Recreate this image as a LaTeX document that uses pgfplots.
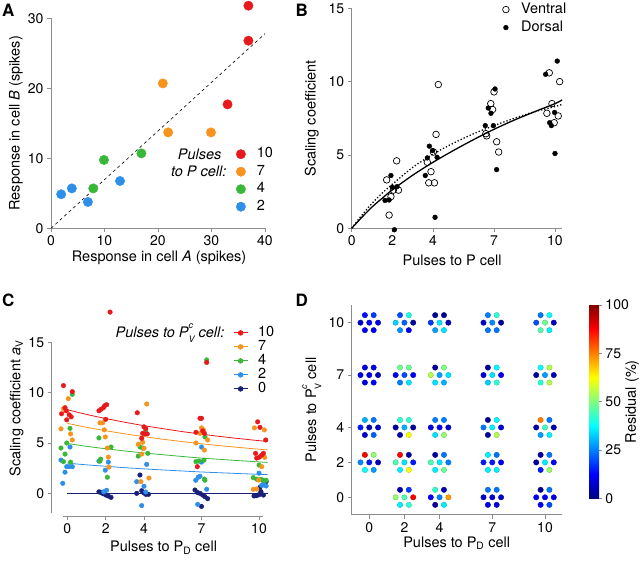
\documentclass[border=0pt]{standalone}
\usepackage{fontspec}
\setmainfont{TeX Gyre Heros}
\usepackage{pgfplots}
\pgfplotsset{compat=1.18}
\definecolor{cR}{HTML}{E8191C}
\definecolor{cO}{HTML}{F7941E}
\definecolor{cG}{HTML}{39B739}
\definecolor{cB}{HTML}{2E8FEA}
\definecolor{cN}{HTML}{1A1F7A}
\definecolor{axgray}{HTML}{8C8C8C}
\newcommand{\Pcv}{P\rlap{\raisebox{0.62em}{\fontsize{9}{9}\selectfont\itshape c}}\raisebox{-0.36em}{\fontsize{9}{9}\selectfont V}}
\newcommand{\lfont}{\fontsize{14.5}{17}\selectfont}
\newcommand{\tfont}{\fontsize{14}{16}\selectfont}
\pgfplotsset{
  myax/.style={scale only axis, clip=false, anchor=south west,
    axis x line*=bottom, axis y line*=left,
    axis line style={axgray, line width=0.9pt},
    tick style={axgray, line width=0.9pt},
    tick align=outside, major tick length=4pt,
    /pgf/number format/assume math mode=true,
    tick label style={font=\tfont},
    label style={font=\lfont},
    legend style={font=\lfont},
    xlabel style={anchor=center}, ylabel style={anchor=center},
  },
}
\begin{document}
\begin{tikzpicture}[x=1pt,y=1pt,font=\lfont]
\path[use as bounding box] (0,0) rectangle (640,561);
% panel letters
\node[font=\bfseries\fontsize{17}{19}\selectfont] at (8.3,551) {A};
\node[font=\bfseries\fontsize{17}{19}\selectfont] at (301.7,551) {B};
\node[font=\bfseries\fontsize{17}{19}\selectfont] at (8.3,261) {C};
\node[font=\bfseries\fontsize{17}{19}\selectfont] at (301.7,261) {D};

% ---------------- A ----------------
\begin{axis}[myax, at={(51pt,332.7pt)}, width=214pt, height=210pt,
  xmin=0, xmax=40, ymin=0, ymax=30,
  xtick={0,10,20,30,40}, ytick={0,10,20,30},
  xlabel={Response in cell \textit{A} (spikes)},
  ylabel={Response in cell \textit{B} (spikes)},
  xlabel style={at={(axis description cs:0.505,-0.141)}},
  ylabel style={at={(axis description cs:-0.164,0.50)}},
  legend style={draw=none, fill=none, at={(0.8645,0.3955)}, anchor=north west,
    inner sep=0pt, row sep=0pt, nodes={inner sep=0pt, text height=12.5pt, text depth=5pt},
    /tikz/every odd column/.append style={column sep=11.3pt}},
  legend cell align=left,
  legend image code/.code={\draw[#1] plot coordinates {(0pt,0pt)};},
]
\addlegendimage{only marks, mark=*, mark size=4.7pt, cR}\addlegendentry{10}
\addlegendimage{only marks, mark=*, mark size=4.7pt, cO}\addlegendentry{7}
\addlegendimage{only marks, mark=*, mark size=4.7pt, cG}\addlegendentry{4}
\addlegendimage{only marks, mark=*, mark size=4.7pt, cB}\addlegendentry{2}
\addplot[black, dashed, line width=0.6pt, forget plot] coordinates {(0,0) (40,27.8)};
\addplot[only marks, mark=*, mark size=4.7pt, cB, forget plot] coordinates {(1.9,4.86) (3.9,5.7) (6.9,3.76) (12.9,6.76)};
\addplot[only marks, mark=*, mark size=4.7pt, cG, forget plot] coordinates {(9.9,9.76) (16.9,10.7) (7.9,5.7)};
\addplot[only marks, mark=*, mark size=4.7pt, cO, forget plot] coordinates {(20.9,20.7) (21.9,13.7) (29.9,13.7)};
\addplot[only marks, mark=*, mark size=4.7pt, cR, forget plot] coordinates {(36.9,31.8) (36.9,26.8) (33.0,17.7)};
\end{axis}
\node[anchor=east, font=\itshape\lfont] at (225,407) {Pulses};
\node[anchor=east, font=\itshape\lfont] at (230,389.3) {to P cell:};

% ---------------- B ----------------
\begin{axis}[myax, at={(351.7pt,332.7pt)}, width=210pt, height=220pt,
  xmin=0, xmax=10.33, ymin=0, ymax=15,
  xtick={0,2,4,7,10}, ytick={0,5,10,15},
  xlabel={Pulses to P cell},
  ylabel={Scaling coefficient},
  xlabel style={at={(axis description cs:0.478,-0.144)}},
  ylabel style={at={(axis description cs:-0.19,0.50)}},
  legend style={draw=none, fill=none, at={(0.7176,1.036)}, anchor=north west,
    inner sep=0pt, row sep=0pt, nodes={inner sep=0pt, text height=13pt, text depth=5pt},
    /tikz/every odd column/.append style={column sep=12pt}},
  legend cell align=left,
  legend image code/.code={\draw[#1] plot coordinates {(0pt,0pt)};},
]
\addlegendimage{only marks, mark=o, mark size=3.3pt, black, line width=0.7pt}\addlegendentry{Ventral}
\addlegendimage{only marks, mark=*, mark size=2.4pt, black}\addlegendentry{Dorsal}
\addplot[black, line width=1.3pt, smooth, forget plot] coordinates {(0,0) (0.5,0.75) (1,1.45) (1.5,2.05) (2,2.62) (3,3.62) (4,4.5) (5,5.3) (6,6.05) (7,6.75) (8,7.38) (9,7.95) (10,8.5) (10.35,8.75)};
\addplot[black, line width=1.3pt, dotted, smooth, forget plot] coordinates {(0,0) (0.5,0.9) (1,1.7) (1.5,2.4) (2,3.0) (3,4.15) (4,5.05) (5,5.8) (6,6.45) (7,7.0) (8,7.5) (9,7.95) (10,8.3) (10.35,8.45)};
\addplot[only marks, mark=o, mark size=3.3pt, black, line width=0.7pt, mark options={fill=white}, forget plot] coordinates {
(1.72,3.3) (1.84,0.9) (1.93,2.16) (2.21,4.6) (2.30,2.6) (2.05,2.6)
(3.72,4.5) (3.9,3.86) (3.79,3.1) (4.07,3.1) (4.02,5.2) (4.15,6.4) (4.26,9.8)
(6.64,6.3) (6.84,8.5) (6.93,8.1) (7.0,9.3) (7.13,5.9) (7.23,5.2) (6.6,6.45)
(9.72,10.6) (9.6,7.84) (9.85,8.5) (9.96,7.2) (10.16,7.66) (10.23,10.0)};
\addplot[only marks, mark=*, mark size=2.4pt, black, forget plot] coordinates {
(1.64,1.9) (1.84,1.93) (1.93,3.6) (2.0,2.8) (2.23,2.84) (2.1,-0.1)
(3.62,3.6) (3.72,4.8) (3.82,5.6) (3.98,5.3) (4.2,4.84) (4.1,0.75)
(6.57,7.0) (6.72,8.2) (6.85,7.84) (6.97,7.0) (7.05,9.5) (7.13,4.0)
(9.54,10.5) (9.74,7.2) (9.82,7.0) (9.98,7.9) (10.11,11.4) (10.0,5.1)};
\end{axis}

% ---------------- C ----------------
\begin{axis}[myax, at={(51.6pt,44.5pt)}, width=217pt, height=174.2pt,
  xmin=-0.82, xmax=10.5, ymin=-2.3, ymax=15,
  axis line style={draw=none},
  xtick={0,2,4,7,10}, ytick={0,5,10,15},
  xlabel={Pulses to P\textsubscript{D} cell},
  ylabel={Scaling coefficient \textit{a}\textsubscript{V}},
  xlabel style={at={(axis description cs:0.516,-0.18)}},
  ylabel style={at={(axis description cs:-0.161,0.62)}},
  legend style={draw=none, fill=none, at={(0.836,1.0953)}, anchor=north west,
    inner sep=0pt, row sep=0pt, nodes={inner sep=0pt, text height=10.5pt, text depth=3.5pt},
    /tikz/every odd column/.append style={column sep=10pt}},
  legend cell align=left,
  legend image code/.code={\draw[#1,mark=none] (0pt,0pt) -- (14pt,0pt); \draw[#1,only marks] plot coordinates {(7pt,0pt)};},
]
\draw[axgray, line width=0.9pt] (axis cs:-0.82,-2.0) -- (axis cs:-0.82,15);
\draw[axgray, line width=0.9pt] (axis cs:-0.22,-2.3) -- (axis cs:10.22,-2.3);
\addlegendimage{cR, line width=0.8pt, mark=*, mark size=2.3pt}\addlegendentry{10}
\addlegendimage{cO, line width=0.8pt, mark=*, mark size=2.3pt}\addlegendentry{7}
\addlegendimage{cG, line width=0.8pt, mark=*, mark size=2.3pt}\addlegendentry{4}
\addlegendimage{cB, line width=0.8pt, mark=*, mark size=2.3pt}\addlegendentry{2}
\addlegendimage{cN, line width=0.8pt, mark=*, mark size=2.3pt}\addlegendentry{0}
\addplot[cR, line width=0.8pt, smooth, forget plot] coordinates {(0,8.3) (1,7.84) (2,7.43) (3,7.06) (4,6.72) (5,6.42) (6,6.13) (7,5.88) (8,5.64) (9,5.43) (10,5.23) (10.45,5.15)};
\addplot[cO, line width=0.8pt, smooth, forget plot] coordinates {(0,6.95) (1,6.56) (2,6.22) (3,5.91) (4,5.63) (5,5.37) (6,5.14) (7,4.92) (8,4.73) (9,4.55) (10,4.38) (10.45,4.31)};
\addplot[cG, line width=0.8pt, smooth, forget plot] coordinates {(0,4.95) (1,4.67) (2,4.43) (3,4.21) (4,4.01) (5,3.83) (6,3.66) (7,3.50) (8,3.37) (9,3.24) (10,3.12) (10.45,3.07)};
\addplot[cB, line width=0.8pt, smooth, forget plot] coordinates {(0,3.0) (1,2.83) (2,2.69) (3,2.55) (4,2.43) (5,2.32) (6,2.22) (7,2.12) (8,2.04) (9,1.96) (10,1.89) (10.45,1.86)};
\addplot[cN, line width=0.8pt, forget plot] coordinates {(0,0) (10.45,0)};
\addplot[only marks, mark=*, mark size=2.3pt, cN, forget plot] coordinates {
(1.65,0.15) (1.74,0.1) (1.84,0) (1.93,-0.07) (2.02,-0.17) (2.14,-0.27) (2.28,-0.4)
(3.79,1.82) (3.62,0) (3.88,0.26) (4.0,0.03) (4.1,-0.1) (4.23,-0.1)
(6.66,0.33) (6.8,0.07) (6.92,0) (7.06,-0.17) (7.18,-0.33) (7.32,-0.53) (7.0,-1.3)
(9.74,-0.26) (9.88,-0.23) (10.0,-0.13) (10.1,0.17) (10.23,-0.17) (10.37,1.16) (10.05,0.6)};
\addplot[only marks, mark=*, mark size=2.3pt, cB, forget plot] coordinates {
(-0.33,3.3) (-0.24,1.0) (-0.12,2.1) (-0.03,2.65) (0.1,2.65) (0.14,4.6) (0.26,2.65)
(1.65,3.2) (1.98,2.3) (2.14,3.1) (2.05,0.3) (1.9,0.15)
(3.62,1.16) (4.14,2.88) (4.0,0.7) (3.88,-1.22) (4.09,0.13)
(6.92,1.7) (7.0,3.1) (7.27,0.4) (6.7,1.3) (6.83,1.6) (6.8,-1.1) (7.0,4.6)
(10.0,2.0) (10.23,0.83) (10.37,0.73) (10.14,0.8) (10.23,0.93)};
\addplot[only marks, mark=*, mark size=2.3pt, cG, forget plot] coordinates {
(0.26,9.83) (-0.33,4.5) (-0.2,3.15) (-0.12,3.9) (0.14,6.45) (0.17,3.1) (-0.03,5.0)
(1.65,5.5) (1.74,3.4) (2.09,1.6) (2.28,4.6) (1.7,3.2)
(3.7,3.7) (4.2,3.97) (4.09,6.3) (3.8,4.6) (3.93,4.5)
(7.27,13.25) (7.18,5.6) (6.71,3.15) (6.87,3.2) (7.13,3.3) (7.15,1.42) (7.18,1.3)
(10.0,2.8) (10.1,1.4) (10.23,1.3) (10.37,1.3) (9.88,1.4) (9.7,1.56)};
\addplot[only marks, mark=*, mark size=2.3pt, cO, forget plot] coordinates {
(-0.33,6.4) (0.05,9.4) (-0.1,8.2) (0.17,5.9) (0.26,5.3) (-0.2,8.4)
(1.7,7.0) (1.84,7.0) (1.98,5.6) (2.09,4.5) (2.14,3.6) (2.17,2.6) (1.93,6.3)
(4.14,8.87) (3.7,4.87) (3.93,5.07) (4.0,4.47) (3.88,3.9) (4.26,1.52) (3.84,1.16)
(7.0,6.5) (6.92,5.96) (7.1,6.3) (6.71,5.0) (7.32,5.3) (7.15,4.3)
(9.76,6.5) (10.28,6.3) (10.3,3.57) (10.14,2.65) (9.98,1.32) (9.88,0.43) (9.7,0.4)};
\addplot[only marks, mark=*, mark size=2.3pt, cR, forget plot] coordinates {
(-0.2,10.7) (0.26,10.1) (-0.12,8.5) (-0.3,7.9) (0.1,7.8) (0.2,7.6) (-0.03,7.3) (-0.05,8.2)
(1.65,8.2) (1.76,8.35) (1.88,8.5) (1.95,8.7) (2.05,8.8) (2.0,7.35) (2.23,18.0)
(3.65,8.0) (4.0,6.6) (3.88,5.46) (3.93,5.96) (4.05,5.9) (4.17,5.9) (4.09,6.45)
(6.92,7.45) (7.0,7.45) (6.71,6.06) (7.15,5.96) (6.78,2.65) (7.27,13.0) (7.06,6.2)
(9.93,7.1) (10.05,6.55) (10.35,5.3) (9.82,3.97) (9.88,3.5) (10.14,3.8) (10.23,3.97) (10.02,3.6)};
\end{axis}
\node[anchor=east, font=\itshape\lfont] at (228,228.3) {Pulses to \Pcv\ cell:};

% ---------------- D ----------------
\begin{axis}[myax, at={(351.7pt,46.2pt)}, width=210pt, height=209.6pt,
  xmin=-1, xmax=10.95, ymin=-1, ymax=11,
  xtick={0,2,4,7,10}, ytick={0,2,4,7,10},
  xlabel={Pulses to P\textsubscript{D} cell},
  ylabel={Pulses to \Pcv\ cell},
  xlabel style={at={(axis description cs:0.5,-0.135)}},
  ylabel style={at={(axis description cs:-0.19,0.5)}},
  colormap/jet, point meta min=0, point meta max=100,
  colorbar,
  colorbar style={at={(parent axis.north east)}, anchor=north west, xshift=19pt, yshift=0.2pt,
    scale only axis, width=10pt, height=193.3pt,
    axis line style={draw=none},
    ytick={0,25,50,75,100}, ytick pos=right, tick align=outside, major tick length=2.7pt,
    tick style={axgray, line width=0.9pt},
    /pgf/number format/assume math mode=true,
    yticklabel style={font=\tfont},
    ylabel={Residual (\%)},
    every axis y label/.style={at={(axis description cs:1,0.5)}, xshift=33pt, rotate=90, anchor=center, font=\lfont},
  },
]
\addplot[scatter, only marks, mark=*, mark size=2.7pt, scatter src=explicit] table[meta=c] {
x y c
-0.25 10.43 14
0.25 10.43 18
-0.5 10 8
0 10 12
0.5 10 10
-0.25 9.57 12
0.25 9.57 12
1.75 10.43 20
2.25 10.43 40
1.5 10 33
2 10 22
2.5 10 3
1.75 9.57 27
2.25 9.57 10
3.75 10.43 3
4.25 10.43 3
3.5 10 18
4 10 35
4.5 10 5
3.75 9.57 28
4.25 9.57 35
6.75 10.43 25
7.25 10.43 42
6.5 10 8
7 10 26
7.5 10 3
6.75 9.57 24
7.25 9.57 24
9.75 10.43 24
10.25 10.43 38
9.5 10 20
10 10 48
10.5 10 6
9.75 9.57 46
10.25 9.57 36
-0.25 7.43 10
0.25 7.43 10
-0.5 7 10
0 7 10
0.5 7 6
-0.25 6.57 10
0.25 6.57 12
1.75 7.43 48
2.25 7.43 48
1.5 7 12
2 7 20
2.5 7 12
1.75 6.57 25
2.25 6.57 35
3.75 7.43 3
4.25 7.43 50
3.5 7 55
4 7 28
4.5 7 35
3.75 6.57 35
4.25 6.57 30
6.75 7.43 3
7.25 7.43 37
6.5 7 10
7 7 35
7.5 7 12
6.75 6.57 33
7.25 6.57 42
9.75 7.43 38
10.25 7.43 55
9.5 7 3
10 7 28
10.5 7 6
9.75 6.57 42
10.25 6.57 55
-0.25 4.43 30
0.25 4.43 24
-0.5 4 15
0 4 5
0.5 4 8
-0.25 3.57 8
0.25 3.57 22
1.75 4.43 42
2.25 4.43 42
1.5 4 3
2 4 30
2.5 4 3
1.75 3.57 4
2.25 3.57 62
3.75 4.43 25
4.25 4.43 25
3.5 4 10
4 4 12
4.5 4 8
3.75 3.57 35
4.25 3.57 52
6.75 4.43 3
7.25 4.43 37
6.5 4 24
7 4 36
7.5 4 10
6.75 3.57 3
7.25 3.57 55
9.75 4.43 75
10.25 4.43 24
9.5 4 4
10 4 44
10.5 4 5
9.75 3.57 28
10.25 3.57 36
-0.25 2.43 88
0.25 2.43 52
-0.5 2 26
0 2 15
0.5 2 6
-0.25 1.57 38
0.25 1.57 28
1.75 2.43 88
2.25 2.43 3
1.5 2 45
2 2 35
2.5 2 15
1.75 1.57 36
2.25 1.57 62
3.75 2.43 3
4.25 2.43 24
3.5 2 45
4 2 35
4.5 2 25
3.75 1.57 36
4.25 1.57 48
6.75 2.43 36
7.25 2.43 24
6.5 2 15
7 2 15
7.5 2 12
6.75 1.57 36
7.25 1.57 36
9.75 2.43 3
10.25 2.43 24
9.5 2 4
10 2 36
10.5 2 12
9.75 1.57 15
10.25 1.57 52
1.75 0.43 4
2.25 0.43 18
1.5 0 52
2 0 45
2.5 0 88
1.75 -0.43 36
2.25 -0.43 42
3.75 0.43 42
4.25 0.43 5
3.5 0 12
4 0 25
4.5 0 72
3.75 -0.43 3
4.25 -0.43 36
6.75 0.43 24
7.25 0.43 24
6.5 0 8
7 0 8
7.5 0 8
6.75 -0.43 10
7.25 -0.43 10
9.75 0.43 3
10.25 0.43 24
9.5 0 12
10 0 12
10.5 0 10
9.75 -0.43 12
10.25 -0.43 20
};
\end{axis}
\end{tikzpicture}
\end{document}
